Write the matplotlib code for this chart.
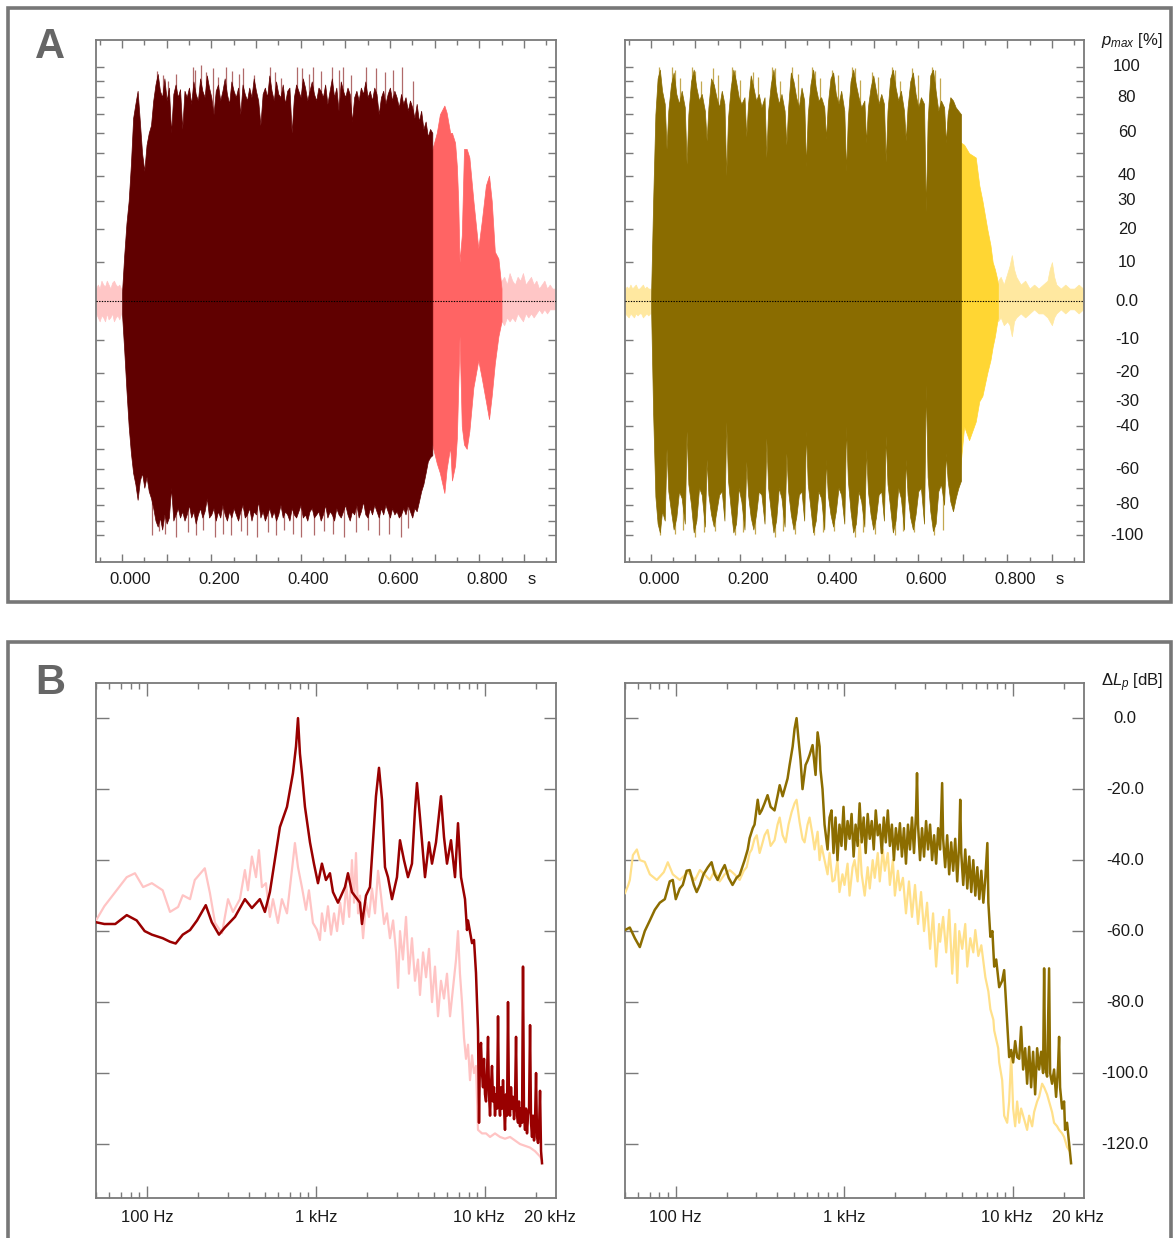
import numpy as np
import matplotlib
matplotlib.use('Agg')
import matplotlib.pyplot as plt
from matplotlib.patches import Rectangle
from matplotlib.ticker import FixedLocator, MultipleLocator, LogLocator, NullFormatter

plt.rcParams['font.family'] = ['Liberation Sans', 'DejaVu Sans']
plt.rcParams['mathtext.fontset'] = 'custom'
plt.rcParams['mathtext.rm'] = 'Liberation Sans'
plt.rcParams['mathtext.it'] = 'Liberation Sans:italic'

# ---------------- DATA: panel A (waveforms, % of p_max) ----------------
tA_L = np.round(np.arange(0.0, 0.6951, 0.005), 3)
L_up = [2, 12, 22, 30, 45, 68, 76, 84, 66, 50, 42, 54, 60, 64, 78, 88, 95, 84, 80, 92,
        78, 86, 60, 82, 88, 80, 85, 62, 84, 80, 86, 76, 90, 82, 78, 92, 84, 80, 94, 86,
        80, 70, 84, 88, 78, 84, 92, 82, 76, 90, 84, 80, 86, 70, 88, 82, 78, 86, 80, 92,
        84, 78, 64, 82, 86, 80, 94, 84, 78, 90, 82, 80, 88, 76, 84, 86, 60, 80, 88, 84,
        80, 92, 86, 78, 84, 90, 82, 78, 86, 84, 80, 88, 76, 84, 92, 80, 86, 72, 90, 84,
        80, 86, 82, 66, 80, 84, 78, 86, 82, 90, 80, 84, 78, 86, 82, 70, 80, 84, 76, 82,
        86, 78, 84, 80, 74, 82, 76, 80, 72, 78, 74, 68, 76, 66, 72, 62, 66, 58, 62, 60]
L_lo = [-3, -13, -26, -40, -52, -62, -68, -77, -66, -62, -70, -64, -72, -76, -82, -90, -94, -88, -96, -86,
        -92, -88, -70, -90, -86, -82, -88, -84, -90, -86, -80, -88, -84, -92, -86, -82, -88, -84, -76, -88,
        -86, -82, -90, -84, -88, -80, -86, -90, -84, -88, -82, -86, -90, -84, -80, -88, -86, -82, -90, -84,
        -86, -78, -88, -84, -90, -86, -82, -88, -84, -90, -86, -80, -88, -84, -86, -90, -82, -86, -88, -84,
        -80, -88, -86, -90, -84, -82, -88, -86, -84, -90, -86, -80, -88, -84, -86, -90, -82, -86, -88, -84,
        -80, -86, -90, -84, -86, -80, -88, -84, -78, -86, -88, -82, -86, -80, -84, -88, -82, -86, -80, -84,
        -88, -82, -86, -84, -88, -86, -82, -86, -80, -84, -88, -82, -84, -78, -72, -68, -62, -56, -54, -53]
L_spk_t = [0.078, 0.092, 0.103, 0.122, 0.158, 0.163, 0.176, 0.188, 0.204, 0.216, 0.232, 0.246,
           0.262, 0.271, 0.296, 0.331, 0.343, 0.356, 0.392, 0.404, 0.418, 0.427, 0.446, 0.471,
           0.487, 0.494, 0.512, 0.546, 0.568, 0.588, 0.607, 0.626, 0.652]
L_spk_v = [97, 94, 90, 95, 100, 98, 101, 96, 99, 93, 100, 97, 95, 99, 94, 100, 96, 92, 100, 99,
           95, 100, 97, 100, 98, 100, 94, 100, 99, 96, 98, 100, 90]
L_spkn_t = [0.068, 0.083, 0.096, 0.121, 0.148, 0.166, 0.182, 0.209, 0.226, 0.244, 0.266, 0.281,
            0.302, 0.326, 0.346, 0.362, 0.383, 0.402, 0.431, 0.452, 0.472, 0.497, 0.523, 0.551,
            0.576, 0.597, 0.624, 0.641]
L_spkn_v = [-100, -97, -99, -101, -98, -100, -96, -101, -99, -100, -97, -100, -101, -98, -100, -96,
            -99, -101, -100, -97, -99, -101, -98, -96, -100, -99, -101, -95]

L_t2 = [0.690, 0.705, 0.712, 0.722, 0.727, 0.735, 0.739, 0.746, 0.750, 0.753, 0.756, 0.761,
        0.766, 0.772, 0.778, 0.787, 0.798, 0.806, 0.815, 0.822, 0.828, 0.835, 0.843, 0.850]
L_up2 = [48, 60, 70, 75, 71, 60, 60, 55, 44, 30, 10, 18, 52, 52, 48, 30, 14, 23, 36, 40, 30, 13, 11, 3]
L_lo2 = [-44, -57, -62, -73, -60, -49, -66, -58, -45, -25, -9, -40, -48, -50, -42, -25, -16, -22,
         -30, -37, -28, -17, -9, -5]

pre_t = [-0.058, -0.054, -0.050, -0.046, -0.042, -0.038, -0.034, -0.030, -0.026, -0.022,
         -0.018, -0.014, -0.010, -0.006, -0.002]
L_pre_up = [3, 4, 3, 5, 4, 3.5, 5, 4, 3, 4.5, 5, 4, 3.5, 4, 3]
L_pre_lo = [-3, -4, -5, -3.5, -4, -5, -3, -4.5, -4, -3, -5, -4, -3.5, -4.5, -3]
L_post_t = [0.850, 0.856, 0.862, 0.868, 0.874, 0.880, 0.886, 0.892, 0.898, 0.904, 0.910,
            0.916, 0.922, 0.928, 0.934, 0.940, 0.946, 0.952, 0.958, 0.964, 0.970]
L_post_up = [5, 6, 4, 7, 5, 4, 6, 5, 7, 4, 5, 6, 4, 5, 3, 4, 5, 3, 4, 3, 3]
L_post_lo = [-5, -6, -4, -5, -4, -5, -3, -4, -5, -3, -4, -3, -4, -3, -2, -3, -2, -3, -2, -2, -2]

tA_R = [0.000, 0.005, 0.010, 0.015, 0.020, 0.025, 0.031,
        0.035, 0.039, 0.045, 0.051, 0.057, 0.063, 0.069, 0.076,
        0.080, 0.084, 0.090, 0.096, 0.102, 0.108, 0.114, 0.121,
        0.125, 0.129, 0.135, 0.141, 0.147, 0.153, 0.159, 0.165,
        0.169, 0.173, 0.179, 0.185, 0.191, 0.197, 0.203, 0.210,
        0.214, 0.218, 0.224, 0.230, 0.236, 0.242, 0.248, 0.255,
        0.259, 0.263, 0.269, 0.275, 0.281, 0.287, 0.293, 0.300,
        0.304, 0.308, 0.314, 0.320, 0.326, 0.332, 0.338, 0.344,
        0.348, 0.352, 0.358, 0.364, 0.370, 0.376, 0.382, 0.389,
        0.393, 0.397, 0.403, 0.409, 0.415, 0.421, 0.427, 0.434,
        0.438, 0.442, 0.448, 0.454, 0.460, 0.466, 0.472, 0.479,
        0.483, 0.487, 0.493, 0.499, 0.505, 0.511, 0.517, 0.523,
        0.527, 0.531, 0.537, 0.543, 0.549, 0.555, 0.561, 0.568,
        0.572, 0.576, 0.582, 0.588, 0.594, 0.600, 0.606, 0.613,
        0.617, 0.621, 0.627, 0.633, 0.639, 0.645, 0.651, 0.658,
        0.662, 0.666, 0.672, 0.678, 0.684, 0.690, 0.696]
R_up = [0, 30, 70, 92, 98, 84, 76,
        52, 72, 88, 96, 82, 76, 84, 74,
        45, 70, 90, 98, 86, 78, 82, 72,
        56, 74, 92, 88, 80, 74, 84, 76,
        40, 68, 86, 98, 90, 80, 76, 80,
        58, 76, 94, 86, 78, 82, 74, 80,
        48, 72, 88, 98, 84, 76, 82, 72,
        54, 74, 96, 90, 80, 74, 86, 78,
        44, 70, 88, 98, 86, 78, 80, 74,
        57, 76, 92, 96, 82, 76, 84, 72,
        42, 68, 90, 98, 88, 80, 74, 78,
        55, 74, 86, 94, 84, 76, 82, 76,
        46, 72, 92, 98, 86, 78, 84, 72,
        56, 74, 90, 96, 82, 74, 80, 76,
        26, 66, 94, 98, 84, 72, 78, 74,
        55, 70, 80, 78, 74, 72, 70]
R_lo = [0, -35, -75, -92, -98, -84, -90,
        -50, -72, -84, -96, -88, -72, -76, -92,
        -42, -68, -80, -98, -90, -70, -74, -94,
        -55, -74, -86, -94, -84, -74, -72, -90,
        -38, -66, -82, -98, -92, -70, -78, -96,
        -56, -74, -88, -96, -86, -72, -74, -92,
        -45, -70, -84, -98, -90, -70, -76, -94,
        -52, -72, -86, -96, -88, -74, -72, -90,
        -42, -68, -82, -98, -90, -72, -76, -96,
        -55, -74, -86, -94, -84, -70, -74, -92,
        -40, -66, -84, -98, -92, -72, -78, -94,
        -50, -72, -86, -96, -88, -74, -72, -90,
        -44, -68, -82, -98, -90, -70, -76, -96,
        -55, -74, -88, -96, -86, -72, -70, -92,
        -24, -64, -84, -97, -92, -72, -68, -80,
        -52, -66, -78, -84, -76, -70, -66]
R_spk_t = [0.018, 0.047, 0.055, 0.066, 0.093, 0.099, 0.112, 0.139, 0.151, 0.183, 0.189, 0.201,
           0.228, 0.240, 0.272, 0.279, 0.290, 0.317, 0.330, 0.362, 0.368, 0.380, 0.406, 0.420,
           0.452, 0.458, 0.470, 0.496, 0.510, 0.541, 0.547, 0.559, 0.586, 0.600, 0.631, 0.637,
           0.648]
R_spk_v = [100, 100, 98, 92, 100, 97, 90, 99, 94, 100, 98, 91, 96, 93, 100, 99, 90, 100, 95, 100,
           97, 92, 98, 94, 100, 99, 91, 96, 93, 100, 98, 90, 99, 94, 100, 98, 92]
R_spkn_t = [0.020, 0.053, 0.073, 0.099, 0.118, 0.143, 0.188, 0.207, 0.233, 0.278, 0.297, 0.323,
            0.367, 0.386, 0.412, 0.457, 0.476, 0.502, 0.547, 0.565, 0.591, 0.636, 0.655]
R_spkn_v = [-100, -99, -96, -101, -98, -97, -100, -98, -99, -101, -97, -99, -100, -98, -97, -101,
            -98, -99, -100, -97, -98, -100, -96]
R_t2 = [0.690, 0.703, 0.714, 0.729, 0.737, 0.744, 0.755, 0.762, 0.767, 0.772, 0.776, 0.779]
R_up2 = [56, 54, 50, 48, 36, 30, 20, 15, 10, 8, 6, 4]
R_lo2 = [-70, -40, -46, -38, -30, -28, -20, -16, -12, -9, -6, -4]
R_pre_up = [3, 3.5, 3, 4, 3, 3.5, 4, 3, 3, 3.5, 4, 3, 3.5, 3, 3]
R_pre_lo = [-3, -3.5, -4, -3, -3.5, -4, -3, -3.5, -3, -3, -4, -3.5, -3, -3.5, -3]
R_post_t = [0.779, 0.785, 0.792, 0.800, 0.805, 0.810, 0.815, 0.820, 0.830, 0.840, 0.850, 0.860,
            0.870, 0.880, 0.890, 0.895, 0.900, 0.905, 0.910, 0.920, 0.930, 0.940, 0.950, 0.960, 0.970]
R_post_up = [5, 6, 4, 7, 9, 12, 8, 6, 4, 5, 3, 4, 3, 4, 5, 8, 10, 6, 4, 3, 4, 3, 3, 4, 3]
R_post_lo = [-5, -4, -6, -5, -6, -9, -5, -4, -3, -4, -3, -2, -3, -3, -4, -5, -6, -4, -3, -2, -3, -2,
             -2, -3, -2]

# ---------------- DATA: panel B (spectra, Hz / dB) ----------------
BL_dark_f = [50, 56, 65, 76, 87, 97, 107, 124, 137, 148, 163, 180, 198, 223, 242, 267, 289, 332,
             380, 418, 466, 499, 534, 612, 674, 731, 762, 783, 804, 826, 861, 922, 973, 1028, 1085,
             1146, 1210, 1261, 1350, 1485, 1547, 1633, 1821, 1872, 1977, 2087, 2174, 2265, 2360,
             2458, 2561, 2667, 2817, 3015, 3141, 3317, 3503, 3698, 3853, 3959, 4124, 4416, 4663,
             4858, 5130, 5491, 5721, 5959, 6293, 6646, 6923, 7211, 7615, 7826, 7933, 8378, 8608,
             8845, 9091,
             9216, 9342, 9470, 9600, 9732, 9865, 10000, 10140, 10280, 10420, 10560, 10710, 10860,
             11000, 11150, 11300, 11460, 11620, 11780, 11940, 12100, 12270, 12440, 12610, 12780,
             12960, 13130, 13310, 13500, 13680, 13870, 14060, 14250, 14450, 14650, 14850, 15050,
             15260, 15470, 15680, 15890, 16110, 16330, 16560, 16780, 17010, 17250, 17480, 17720,
             17970, 18220, 18470, 18720, 18970, 19230, 19500, 19760, 20040, 20310, 20590, 20870,
             21160, 21450, 21740]
BL_dark_db = [-57.5, -58, -58, -55.5, -57, -60, -61, -62, -63, -63.5, -61, -59.7, -57, -52.7, -57.5,
              -61, -59, -56, -51, -53.5, -51, -54.6, -49, -30.7, -25, -15.5, -8, 0, -10, -15.5, -25,
              -35, -41, -46.5, -41, -45.6, -43.7, -49, -52, -47.6, -43.7, -49, -52, -58, -50, -47.6,
              -35, -22, -14, -23, -42, -44.8, -51, -44.8, -34.4, -40, -44.8, -41, -26, -18.3, -27.9,
              -44.8, -35, -41, -35, -22, -33.5, -41, -34.4, -44.8, -29.6, -44.8, -51, -59.7, -57,
              -63.4, -62.5, -71.8, -88,
              -114, -95, -91.5, -100, -104, -96, -106, -108, -100, -89.8, -106, -112, -103, -98,
              -108, -104, -112, -106, -110, -84, -108, -112, -104, -110, -102, -110, -116, -106,
              -112, -80, -110, -112, -104, -110, -106.7, -113, -108, -89.8, -112, -114, -108, -115,
              -110, -114, -70, -112, -116, -110, -117, -112, -110, -86.5, -114, -118, -112, -119,
              -114, -100, -118, -119.7, -116, -105, -122, -125.4]

BL_light_f = [50, 56, 65, 76, 85, 95, 107, 124, 137, 153, 163, 180, 192, 220, 236, 253, 278, 302,
              323, 355, 380, 396, 418, 442, 460, 479, 506, 534, 557, 596, 629, 674, 721, 751, 783,
              826, 873, 909, 960, 1014, 1056, 1085, 1130, 1178, 1228, 1280, 1333, 1390, 1448, 1510,
              1573, 1633, 1680, 1725, 1775, 1821, 1900, 1977, 2060, 2145, 2235, 2330, 2425, 2530,
              2630, 2740, 2860, 2980, 3060, 3141, 3270, 3410, 3550, 3698, 3853, 4013, 4124, 4300,
              4480, 4663, 4858, 5060, 5271, 5491, 5721, 5959, 6210, 6470, 6740, 6923, 7110, 7310,
              7510, 7720, 7933, 8152, 8378, 8608, 8845, 9091, 9600, 10140, 10710, 11460, 12270,
              13130, 14060, 15050, 16110, 17250, 18470, 19760, 21160, 21740]
BL_light_db = [-57, -53, -49, -44.8, -43.7, -47.6, -46.5, -48.5, -54.6, -53.2, -49.9, -51, -45.6,
               -42.3, -49.3, -57.7, -60.6, -51, -54.6, -51, -42.8, -48.5, -39, -44.8, -37.2, -47.6,
               -46.5, -56, -51, -57.7, -51, -55, -42.8, -35.2, -42, -47.6, -54, -48.5, -57.7, -59.6,
               -62.5, -55, -60, -53, -61, -55, -60, -52, -58, -47, -56, -40, -52, -38, -55, -50, -62,
               -52, -56, -48, -55, -43, -50, -58, -55, -62, -57, -66, -76, -60, -68, -56, -72, -62,
               -74, -68, -78, -66, -73, -65, -80, -70, -84, -74, -79, -72, -84, -76, -68, -60, -72,
               -80, -90, -96, -92, -102, -95, -100, -98, -116, -117, -117, -118, -117, -118, -118.5,
               -118, -119, -120, -120.5, -121, -122, -123.5, -124.5]

BR_dark_f = [50, 53.4, 57.2, 61.2, 65.5, 70.2, 75.1, 80.4, 86.1, 92.1, 96, 100, 105.6, 110, 116,
             121, 128, 133, 139, 146, 155, 163, 170, 177, 187, 195, 206, 217, 229, 239, 256, 267,
             274, 286, 293, 306, 314, 323, 336, 350, 365, 385, 401, 413, 430, 442, 460, 473, 493,
             506, 520, 534, 549, 564, 588, 604, 621, 647, 674, 693, 712, 721, 741, 762, 794, 816,
             838, 861, 885, 909, 934, 960, 987, 1014, 1043, 1072, 1102, 1133, 1164, 1197, 1230,
             1265, 1300, 1336, 1373, 1412, 1451, 1491, 1533, 1575, 1619, 1665, 1711, 1758, 1807,
             1858, 1910, 1963, 2017, 2074, 2131, 2191, 2252, 2315, 2379, 2445, 2513, 2583, 2655,
             2692, 2729, 2805, 2883, 2963, 3046, 3130, 3217, 3307, 3399, 3494, 3591, 3691, 3793,
             3845, 3953, 4063, 4176, 4292, 4411, 4534, 4660, 4790, 4855, 4922, 5059, 5200, 5345,
             5493, 5646, 5803, 5965, 6130, 6301, 6476, 6657, 6842, 7032, 7129, 7327, 7531, 7720,
             7933, 8264, 8608, 8845, 9216, 9470, 9732, 10000, 10280, 10560, 10860, 11150, 11460,
             11780, 12100, 12440, 12780, 13130, 13500, 13870, 14250, 14650, 15050, 15260, 15470,
             15890, 16330, 16560, 17010, 17480, 17970, 18470, 18720, 18970, 19500, 20040, 20310,
             20870, 21450, 22040]
BR_dark_db = [-59.7, -59, -62, -64.5, -60, -57, -54, -52, -51, -46, -45.6, -51, -48, -47, -43, -42.8,
              -47, -49, -47, -44, -42, -40.6, -44, -45.6, -43, -41.4, -45, -47, -45, -44.2, -40, -37,
              -33.8, -31, -30, -23, -27, -26, -24, -21.7, -25, -26, -22, -18.9, -22, -20, -17, -13.2,
              -8, -3, 0, -6, -11.8, -20, -13.2, -12, -10.4, -7.6, -16, -4, -8, -14.6, -20, -30, -37,
              -28, -26, -38, -28, -40, -30, -36, -25, -37, -29, -34, -27, -39, -30, -36, -24, -35,
              -28, -38, -27, -34, -29, -37, -26, -33, -30, -38, -28, -35, -26, -36, -30, -40, -31,
              -37, -29.6, -39, -31, -41, -30, -37, -28, -38, -27, -15.5, -30, -40, -31, -39, -29,
              -37, -30, -40, -33, -41, -31, -37, -18.3, -34, -42, -33, -44, -35, -43, -34, -46, -35,
              -23, -38, -47, -37, -48, -39, -49, -40, -50, -42, -51, -43, -52, -45, -35.2, -52,
              -61.6, -60, -70, -68, -75.8, -74, -71, -86, -95.5, -93.5, -97, -91, -95.5, -96, -87,
              -99, -93, -103, -92.6, -104, -94, -106, -93, -99, -94, -100, -70.5, -98, -101, -70.5,
              -100, -103, -99, -106.7, -98, -89.8, -104, -110, -108, -116, -114, -119.7, -125.4]

BR_light_f = [50, 52.3, 53.4, 55.7, 58.8, 61.2, 65.5, 70.2, 77.2, 84.9, 89.7, 96, 105.6, 118, 130,
              139, 148, 159, 170, 182, 195, 209, 223, 239, 253, 263, 274, 282, 293, 302, 314, 323,
              336, 350, 365, 385, 401, 413, 430, 448, 466, 486, 506, 520, 542, 564, 580, 604, 621,
              647, 665, 693, 712, 731, 762, 794, 816, 849, 873, 909, 934, 973, 1000, 1043, 1072,
              1117, 1148, 1197, 1230, 1265, 1318, 1373, 1412, 1470, 1512, 1575, 1619, 1688, 1735,
              1807, 1858, 1936, 1990, 2074, 2131, 2221, 2315, 2412, 2513, 2619, 2729, 2844, 2963,
              3088, 3217, 3352, 3494, 3640, 3691, 3845, 4009, 4176, 4351, 4534, 4660, 4790, 4990,
              5200, 5345, 5569, 5803, 5965, 6215, 6476, 6842, 7129, 7327, 7635, 7720, 8152, 8264,
              8608, 8845, 9216, 9470, 9732, 10000, 10280, 10560, 10860, 11150, 11620, 12100, 12440,
              12960, 13310, 13870, 14250, 14850, 15260, 15890, 16330, 17010, 17480, 18220, 18720,
              19500, 20040, 20870, 21450]
BR_light_db = [-49.3, -47, -45.6, -38.6, -37, -40, -40.5, -44, -45.6, -43.4, -40.6, -44, -45.6, -43.4,
               -45.6, -42.8, -44, -45.6, -43, -46, -44, -42.8, -44, -45.6, -43, -42, -38, -37, -34,
               -33, -38, -36, -33, -31.5, -36, -34.4, -30, -28, -33, -35, -30, -26.5, -24, -23, -29.3,
               -34, -35, -30, -28, -33, -37, -32, -40, -36, -40, -44, -38, -46, -45.6, -40, -49, -44,
               -47, -41, -50, -42, -40, -46, -34.4, -44, -50, -42, -48, -40, -45, -38, -46, -37, -43,
               -38, -47, -40, -50, -43, -48.5, -45, -55, -46, -56, -47, -58, -49, -60, -52, -65, -55,
               -70, -58, -63, -56, -66, -54, -72, -58, -74.6, -60, -65, -58, -70, -62, -66, -59.7,
               -67, -64, -73, -77, -82, -85, -88, -93, -97, -102, -112, -114, -108, -95, -110, -115,
               -108, -114, -110, -113, -116, -112, -115, -111, -108, -106.7, -103, -104, -106, -108,
               -111, -114, -115, -116, -117, -118, -120.8, -121.7]

# ---------------- figure ----------------
W, H = 1173, 1238
fig = plt.figure(figsize=(W / 100, H / 100), dpi=100)
PX = 0.72  # points per pixel at 100 dpi


def rect(x0, y0, x1, y1):
    return [x0 / W, 1 - y1 / H, (x1 - x0) / W, (y1 - y0) / H]


def fwd(v):
    v = np.asarray(v, float)
    return np.sign(v) * np.log1p(np.abs(v) / 50.0)


def inv(u):
    u = np.asarray(u, float)
    return np.sign(u) * 50.0 * np.expm1(np.abs(u))


SPINE = '#7a7a7a'

fig.add_artist(Rectangle((8 / W, 1 - 602 / H), 1163 / W, 594 / H, transform=fig.transFigure,
                         fill=False, ec='#777777', lw=2.6))
fig.add_artist(Rectangle((8 / W, -0.05), 1163 / W, 1 - 642 / H + 0.05, transform=fig.transFigure,
                         fill=False, ec='#777777', lw=2.6))
fig.text(50 / W, 1 - 47 / H, 'A', fontsize=30, fontweight='bold', color='#666666',
         ha='center', va='center')
fig.text(50 / W, 1 - 683 / H, 'B', fontsize=30, fontweight='bold', color='#666666',
         ha='center', va='center')


def style_A(ax):
    ax.set_yscale('function', functions=(fwd, inv))
    ax.set_ylim(-120, 120)
    ax.set_xlim(-0.0582, 0.972)
    for s in ax.spines.values():
        s.set_color(SPINE)
        s.set_linewidth(1.3)
    ax.yaxis.set_major_locator(FixedLocator(np.arange(-100, 101, 10)))
    ax.yaxis.set_minor_locator(FixedLocator([]))
    ax.xaxis.set_major_locator(MultipleLocator(0.1))
    ax.xaxis.set_minor_locator(MultipleLocator(0.05))
    ax.tick_params(axis='both', which='both', direction='in', top=True, bottom=True, left=True,
                   right=True, labelleft=False, labelright=False, labelbottom=False,
                   color=SPINE, width=1.0)
    ax.tick_params(axis='y', which='major', length=6)
    ax.tick_params(axis='x', which='major', length=6)
    ax.tick_params(axis='x', which='minor', length=3.5)
    ax.axhline(0, color='black', lw=0.8, ls=(0, (1.2, 1.2)), zorder=10)
    for tv in [0.0, 0.2, 0.4, 0.6, 0.8]:
        ax.annotate(f'{tv:.3f}', xy=(tv, 0), xycoords=('data', 'axes fraction'),
                    xytext=(8 * PX, -18 * PX), textcoords='offset points', ha='center',
                    va='center', fontsize=12, color='#1a1a1a')
    ax.annotate('s', xy=(0.9, 0), xycoords=('data', 'axes fraction'),
                xytext=(8 * PX, -18 * PX), textcoords='offset points', ha='center',
                va='center', fontsize=12, color='#1a1a1a')


def draw_wave(ax, tm, pre_up, pre_lo, up, lo, spk, t2, up2, lo2, post_t, post_up, post_lo,
              c_dark, c_spk, c_mid, c_pale):
    ax.fill_between(pre_t, pre_lo, pre_up, color=c_pale, lw=0.5, zorder=2)
    ax.fill_between(post_t, post_lo, post_up, color=c_pale, lw=0.5, zorder=2)
    ax.fill_between(t2, lo2, up2, color=c_mid, lw=0.5, zorder=3)
    st, sv, snt, snv = spk
    ax.vlines(st, 0, sv, color=c_spk, lw=0.9, zorder=3.5)
    ax.vlines(snt, snv, 0, color=c_spk, lw=0.9, zorder=3.5)
    ax.fill_between(tm, lo, up, color=c_dark, lw=0.5, ec=c_dark, zorder=4)


axA1 = fig.add_axes(rect(96, 40, 556, 562))
axA2 = fig.add_axes(rect(625, 40, 1084, 562))
style_A(axA1)
style_A(axA2)

draw_wave(axA1, tA_L, L_pre_up, L_pre_lo, L_up, L_lo, (L_spk_t, L_spk_v, L_spkn_t, L_spkn_v),
          L_t2, L_up2, L_lo2, L_post_t, L_post_up, L_post_lo,
          '#600000', '#b06a6a', '#ff6464', '#ffc6c6')
draw_wave(axA2, tA_R, R_pre_up, R_pre_lo, R_up, R_lo, (R_spk_t, R_spk_v, R_spkn_t, R_spkn_v),
          R_t2, R_up2, R_lo2, R_post_t, R_post_up, R_post_lo,
          '#8a6c00', '#c4a850', '#ffd633', '#ffe8a0')

A_labels = [100, 80, 60, 40, 30, 20, 10, 0, -10, -20, -30, -40, -60, -80, -100]
for v in A_labels:
    axA2.annotate('0.0' if v == 0 else f'{v}', xy=(1, v), xycoords=('axes fraction', 'data'),
                  xytext=(43 * PX, 0), textcoords='offset points', ha='center', va='center',
                  fontsize=12, color='#1a1a1a')
fig.text(1132 / W, 1 - 40 / H, r'$p_{max}$ [%]', fontsize=12, ha='center', va='center',
         color='#1a1a1a')


def style_B(ax):
    ax.set_xscale('log')
    ax.set_xlim(50, 26300)
    ax.set_ylim(-135.2, 9.9)
    for s in ax.spines.values():
        s.set_color(SPINE)
        s.set_linewidth(1.3)
    ax.xaxis.set_major_locator(LogLocator(base=10, numticks=10))
    ax.xaxis.set_minor_locator(LogLocator(base=10, subs=np.arange(2, 10), numticks=20))
    ax.xaxis.set_minor_formatter(NullFormatter())
    ax.yaxis.set_major_locator(FixedLocator(np.arange(-120, 1, 20)))
    ax.tick_params(axis='both', which='both', direction='in', top=True, bottom=True, left=True,
                   right=True, labelleft=False, labelright=False, labelbottom=False,
                   color=SPINE, width=1.0)
    ax.tick_params(axis='both', which='major', length=9)
    ax.tick_params(axis='x', which='minor', length=4.5)
    for fval, txt, dx in [(100, '100 Hz', 0), (1000, '1 kHz', 0), (10000, '10 kHz', -6),
                          (20000, '20 kHz', 14)]:
        ax.annotate(txt, xy=(fval, 0), xycoords=('data', 'axes fraction'),
                    xytext=(dx * PX, -20 * PX), textcoords='offset points', ha='center',
                    va='center', fontsize=12, color='#1a1a1a')


axB1 = fig.add_axes(rect(96, 683, 556, 1198))
axB2 = fig.add_axes(rect(625, 683, 1084, 1198))
style_B(axB1)
style_B(axB2)

axB1.plot(BL_light_f, BL_light_db, color='#ffc4c4', lw=1.6, zorder=3)
axB1.plot(BL_dark_f, BL_dark_db, color='#990000', lw=1.8, zorder=4)
axB2.plot(BR_light_f, BR_light_db, color='#ffe08a', lw=1.6, zorder=3)
axB2.plot(BR_dark_f, BR_dark_db, color='#8c6d00', lw=1.8, zorder=4)

for v in range(0, -121, -20):
    axB2.annotate(f'{v:.1f}', xy=(1, v), xycoords=('axes fraction', 'data'),
                  xytext=(41 * PX, 0), textcoords='offset points', ha='center', va='center',
                  fontsize=12, color='#1a1a1a')
fig.text(1132 / W, 1 - 683 / H, r'$\Delta L_p$ [dB]', fontsize=12, ha='center', va='center',
         color='#1a1a1a')

fig.savefig('out.png', dpi=100)
